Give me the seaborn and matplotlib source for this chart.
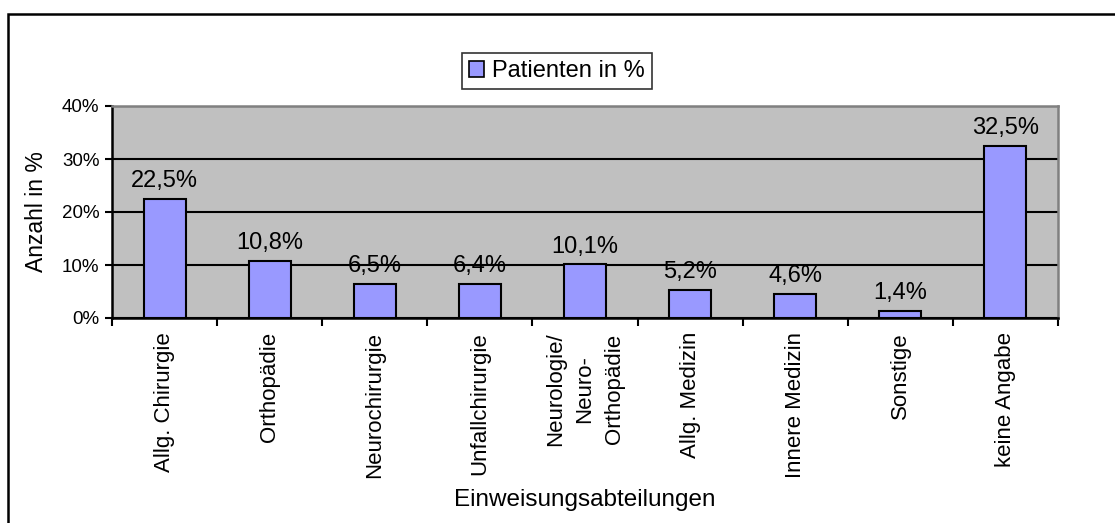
import pandas as pd
import seaborn as sns
import matplotlib
matplotlib.use('Agg')
import matplotlib.pyplot as plt
from matplotlib.patches import Rectangle, Patch

categories = ["Allg. Chirurgie", "Orthopädie", "Neurochirurgie", "Unfallchirurgie",
              "Neurologie/\nNeuro-\nOrthopädie", "Allg. Medizin", "Innere Medizin",
              "Sonstige", "keine Angabe"]
patienten = [22.5, 10.8, 6.5, 6.4, 10.1, 5.2, 4.6, 1.4, 32.5]
yticks = [0, 10, 20, 30, 40]

df = pd.DataFrame({"abteilung": categories, "anteil": patienten})

plt.rcParams['font.family'] = ['Liberation Sans', 'DejaVu Sans']

fig = plt.figure(figsize=(11.15, 5.23), dpi=100)
ax = fig.add_axes([112 / 1115, 1 - 318 / 523, (1058 - 112) / 1115, (318 - 106) / 523])
ax.set_facecolor('#C0C0C0')

sns.barplot(data=df, x="abteilung", y="anteil", color='#9999FF', saturation=1,
            edgecolor='black', linewidth=1.5, width=0.4, ax=ax, zorder=3)

ax.set_xlim(-0.5, len(categories) - 0.5)
ax.set_ylim(0, 40)
ax.set_yticks(yticks)
ax.set_yticklabels([f"{v}%" for v in yticks], fontsize=13.5)
ax.yaxis.grid(True, color='black', linewidth=1.5, zorder=1)
ax.set_axisbelow(True)

ax.set_xticks(range(len(categories)))
ax.set_xticklabels(categories, rotation=90, fontsize=16, va='top', ha='center',
                   multialignment='center')
for lbl in ax.get_xticklabels():
    lbl.set_linespacing(1.5)
ax.set_xticks([i - 0.5 for i in range(len(categories) + 1)], minor=True)
ax.tick_params(axis='x', which='major', length=0, pad=10)
ax.tick_params(axis='x', which='minor', length=6, width=1.5, direction='out')
ax.tick_params(axis='y', length=5, width=1.5, direction='out', pad=4)

for s in ['left', 'bottom']:
    ax.spines[s].set_color('black')
    ax.spines[s].set_linewidth(1.8)
for s in ['top', 'right']:
    ax.spines[s].set_color('#808080')
    ax.spines[s].set_linewidth(1.8)

for i, v in enumerate(patienten):
    ax.annotate(f"{v:.1f}%".replace('.', ','), (i, v), xytext=(0, 8.6),
                textcoords='offset points', ha='center', va='baseline', fontsize=17)

ax.set_xlabel("Einweisungsabteilungen", fontsize=17.5, labelpad=8)
ax.set_ylabel("Anzahl in %", fontsize=16.5, labelpad=10)

handle = Patch(facecolor='#9999FF', edgecolor='black', linewidth=1.2)
leg = fig.legend([handle], ["Patienten in %"], loc='center', bbox_to_anchor=(557 / 1115, 1 - 71 / 523),
                 fontsize=17, frameon=True, fancybox=False, handlelength=0.65, handleheight=0.65,
                 handletextpad=0.35, borderpad=0.3)
leg.get_frame().set_edgecolor('black')
leg.get_frame().set_linewidth(1.2)

fig.patches.append(Rectangle((8 / 1115, -0.05), 1.1, 1.05 - 13.7 / 523, transform=fig.transFigure,
                             fill=False, edgecolor='black', linewidth=1.8))

plt.savefig("out.png", dpi=100)
